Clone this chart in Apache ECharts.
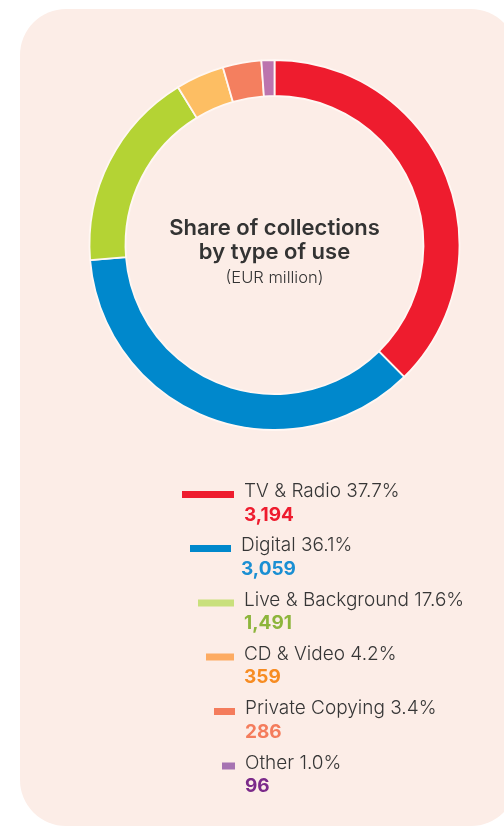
<!DOCTYPE html>
<html>
<head>
<meta charset="utf-8">
<title>Share of collections by type of use</title>
<script src="https://cdn.jsdelivr.net/npm/echarts@6/dist/echarts.min.js"></script>
<style>
  html, body { margin: 0; padding: 0; background: #ffffff; }
  #chart { width: 504px; height: 827px; }
</style>
</head>
<body>
<div id="chart"></div>
<script>
// Collections by type of use, EUR million
const categories = ['TV & Radio', 'Digital', 'Live & Background', 'CD & Video', 'Private Copying', 'Other'];
const values = [3194, 3059, 1491, 359, 286, 96];
const shareLabels = ['37.7%', '36.1%', '17.6%', '4.2%', '3.4%', '1.0%'];
const valueLabels = ['3,194', '3,059', '1,491', '359', '286', '96'];

const ringColors = ['#ee1c2e', '#0088cc', '#b4d334', '#fdbe63', '#f47f5f', '#bc74ae'];
const swatchColors = ['#ee1c2e', '#0088cc', '#c9e07c', '#fdab62', '#f47c5c', '#a673b2'];
const numberColors = ['#ee1c2e', '#1a8fd3', '#8db53c', '#f78c22', '#f47c5c', '#7b2a8a'];

// legend swatch geometry: left edge, width, vertical centre
const swatchLeft = [182, 190, 198, 206, 214, 222];
const swatchWidth = [52, 41, 36, 28, 21, 13];
const swatchCenter = [494.5, 548.5, 603, 657, 711.5, 766];

const FONT = 'Inter, "Noto Sans", sans-serif';
const PANEL = '#fcede7';
const LINE_H = 23.4;
const SPACER_H = 17.4;

const chart = echarts.init(document.getElementById('chart'), null, { renderer: 'canvas' });

const legends = categories.map((name, i) => ({
  show: true,
  orient: 'vertical',
  left: swatchLeft[i],
  top: swatchCenter[i] - (SPACER_H + 2 * LINE_H) / 2,
  padding: 0,
  itemWidth: swatchWidth[i],
  itemHeight: 7,
  selectedMode: false,
  icon: 'rect',
  data: [{ name: name, itemStyle: { color: swatchColors[i], borderWidth: 0 } }],
  formatter: () => '{s| }\n{n|' + name + ' ' + shareLabels[i] + '}\n{v' + i + '|' + valueLabels[i] + '}',
  textStyle: {
    fontFamily: FONT,
    rich: Object.assign({
      s: { fontSize: 10, lineHeight: SPACER_H, height: SPACER_H },
      n: { fontFamily: FONT, fontSize: 19, fontWeight: 300, color: '#363636', lineHeight: LINE_H, padding: [0, 0, 0, 5] }
    }, Object.fromEntries(categories.map((_, k) => ['v' + k, {
      fontFamily: FONT, fontSize: 19, fontWeight: 700, color: numberColors[k], lineHeight: LINE_H, padding: [0, 0, 0, 5]
    }])))
  }
}));

chart.setOption({
  backgroundColor: '#ffffff',
  animation: false,
  graphic: [{
    type: 'rect',
    z: -10,
    silent: true,
    shape: { x: 20, y: 9, width: 497, height: 817, r: 46 },
    style: { fill: PANEL }
  }],
  title: {
    text: 'Share of collections\nby type of use',
    subtext: '(EUR million)',
    left: 274.5,
    top: 217,
    textAlign: 'center',
    padding: 0,
    itemGap: 4.5,
    textStyle: { fontFamily: FONT, fontSize: 22, fontWeight: 600, color: '#333333', lineHeight: 23.5 },
    subtextStyle: { fontFamily: FONT, fontSize: 16.5, fontWeight: 300, color: '#333333', lineHeight: 19 }
  },
  legend: legends,
  series: [{
    type: 'pie',
    center: [274.5, 245],
    radius: [149, 185],
    startAngle: 90,
    clockwise: true,
    avoidLabelOverlap: false,
    label: { show: false },
    labelLine: { show: false },
    emphasis: { disabled: true },
    itemStyle: { borderColor: '#fff7f3', borderWidth: 1.8 },
    data: categories.map((name, i) => ({ name: name, value: values[i], itemStyle: { color: ringColors[i] } }))
  }]
});
</script>
</body>
</html>
